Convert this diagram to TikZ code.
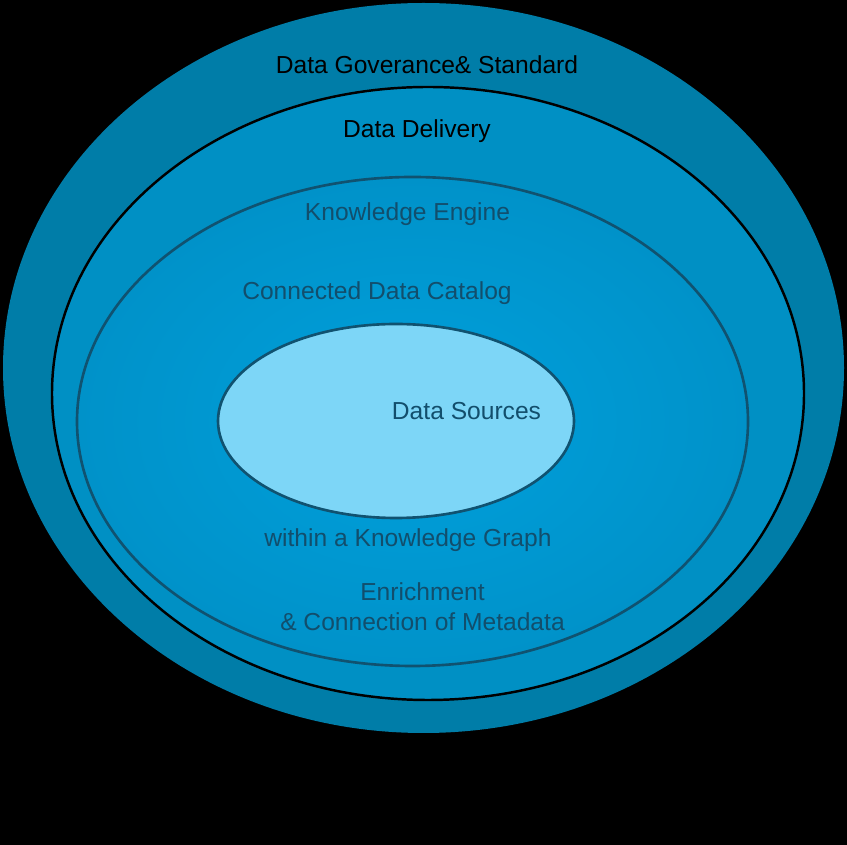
\documentclass[tikz,border=0pt]{standalone}
\usepackage{fontspec}
\setmainfont{Liberation Sans}
\usetikzlibrary{shapes.geometric}
\definecolor{ringouter}{RGB}{0,125,168}
\definecolor{ringdelivery}{RGB}{0,144,196}
\definecolor{ringengine}{RGB}{0,146,201}
\definecolor{ringcore}{RGB}{0,160,220}
\definecolor{sourcefill}{RGB}{125,214,247}
\definecolor{darkline}{RGB}{16,82,112}
\definecolor{darktext}{RGB}{18,78,108}
\tikzset{
	ring/.style={ellipse, inner sep=0pt},
	ringlabel/.style={font=\fontsize{14}{17}\selectfont, inner sep=0pt, align=center}
}

\begin{document}
\begin{tikzpicture}
			%%%%% START %%%%%
			
			\fill[black] (0, 0) rectangle (16.94, -16.9);
			\useasboundingbox (0, 0) rectangle (16.94, -16.9);
			
			\node[ring, fill=ringouter, minimum width=16.82cm, minimum height=14.6cm] (governance) at (8.47, -7.36) {};
			\node[ring, fill=ringdelivery, draw=black, line width=1.4pt, minimum width=15.04cm, minimum height=12.26cm] (delivery) at (8.56, -7.87) {};
			\node[ring, shading=radial, inner color=ringcore, outer color=ringengine, draw=darkline, line width=1.5pt, minimum width=13.42cm, minimum height=9.78cm] (engine) at (8.25, -8.43) {};
			\node[ring, fill=sourcefill, draw=darkline, line width=1.5pt, minimum width=7.12cm, minimum height=3.88cm] (sources) at (7.92, -8.42) {};
			
			\node[ringlabel, text=black] (governancetext) at (8.54, -1.3) {Data Goverance\& Standard};
			\node[ringlabel, text=black] (deliverytext) at (8.34, -2.63) {Data Delivery};
			\node[ringlabel, text=darktext] (enginetext) at (8.15, -4.29) {Knowledge Engine};
			\node[ringlabel, text=darktext] (catalogtext) at (7.54, -5.87) {Connected Data Catalog};
			\node[ringlabel, text=darktext] (sourcestext) at (9.33, -8.22) {Data Sources};
			\node[ringlabel, text=darktext] (graphtext) at (8.16, -10.8) {within a Knowledge Graph};
			\node[ringlabel, text=darktext] (enrichtext) at (8.45, -12.14) {Enrichment\\\& Connection of Metadata};
			
			%%%%% END %%%%%
		\end{tikzpicture}
\end{document}
